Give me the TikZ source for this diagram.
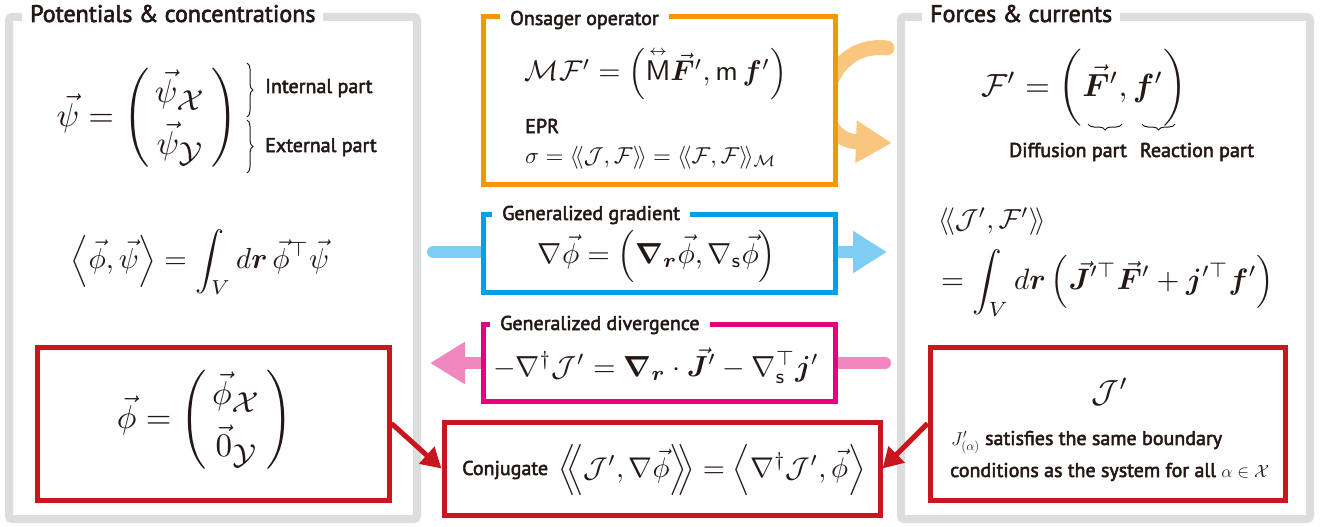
\documentclass[tikz,border=0pt]{standalone}
\usepackage{amsmath,amssymb,bm}
\usepackage{graphicx}
\usepackage{fontspec}
\newfontfamily\lab[FakeBold=2.5]{PT Sans}
\usetikzlibrary{arrows.meta,decorations.pathreplacing}
\definecolor{panelgray}{HTML}{DCDDDD}
\definecolor{textc}{HTML}{231815}
\definecolor{orD}{HTML}{F39800}
\definecolor{orL}{HTML}{F9C67F}
\definecolor{blD}{HTML}{00A0E9}
\definecolor{blL}{HTML}{7ECEF4}
\definecolor{mgD}{HTML}{E4007F}
\definecolor{mgL}{HTML}{F088BF}
\definecolor{rdD}{HTML}{C9161E}
\newcommand\dla{\langle\!\langle}
\newcommand\dra{\rangle\!\rangle}
\newcommand\MS[2]{\scalebox{#1}{$#2$}}
\newcommand\MSM[3]{\scalebox{#1}{\renewcommand\arraystretch{#2}$#3$}}
\newcommand\bsub[1]{\scalebox{1.25}{$\scriptstyle #1$}}
\begin{document}
\begin{tikzpicture}[x=1pt,y=-1pt,
  every node/.style={text=textc},
  panel/.style={draw=panelgray,line width=8,rounded corners=3,fill=white,inner sep=0},
  cbox/.style={draw=#1,line width=5,fill=white,inner sep=0},
  ttl/.style={fill=white,inner xsep=8,inner ysep=3,font=\lab\fontsize{24}{28}\selectfont,anchor=base west},
  sttl/.style={fill=white,inner xsep=10,inner ysep=3,font=\lab\fontsize{20}{24}\selectfont,anchor=base west},
  lbl/.style={font=\lab\fontsize{20}{24}\selectfont,inner sep=0},
  fat/.style={line width=#1,line cap=round},
  brc/.style={decorate,decoration={brace,amplitude=6},line width=1,draw=textc},
  redarr/.style={draw=rdD,line width=5,-{Triangle[length=20,width=22]}}
]
\useasboundingbox (0,0) rectangle (1327,527);

% panels
\node[panel,minimum width=408,minimum height=502] (lp) at (213,268) {};
\node[panel,minimum width=409,minimum height=502] (rp) at (1105.5,268) {};
\node[ttl] (lpt) at (22,22) {Potentials \& concentrations};
\node[ttl] (rpt) at (922,22) {Forces \& currents};

% thick arrows (behind boxes)
\coordinate (oa1) at (887,48);
\coordinate (oa2) at (892,143);
\draw[fat=15,draw=orL,-{Triangle[length=36,width=40]}] (oa1) .. controls (820,40) and (805,140) .. (oa2);
\coordinate (ba1) at (433,252);
\coordinate (ba2) at (887,252);
\draw[fat=12,draw=blL,-{Triangle[length=34,width=40]}] (ba1) -- (ba2);
\coordinate (pa1) at (885,363);
\coordinate (pa2) at (430,363);
\draw[fat=12,draw=mgL,-{Triangle[length=35,width=40]}] (pa1) -- (pa2);

% coloured boxes
\node[cbox=orD,minimum width=352,minimum height=167] (ons) at (659,100.5) {};
\node[sttl] (onst) at (500,25) {Onsager operator};
\node[cbox=blD,minimum width=352,minimum height=78] (grad) at (659,253) {};
\node[sttl] (gradt) at (492,220) {Generalized gradient};
\node[cbox=mgD,minimum width=352,minimum height=77] (div) at (659,362.5) {};
\node[sttl] (divt) at (490,330) {Generalized divergence};

\node[cbox=rdD,minimum width=352,minimum height=153] (phib) at (213,423.5) {};
\node[cbox=rdD,minimum width=436,minimum height=93] (conj) at (662,468.5) {};
\node[cbox=rdD,minimum width=355,minimum height=153] (jb) at (1107.5,423.5) {};

\draw[redarr] (phib.east) -- (conj.west);
\draw[redarr] (jb.west) -- (conj.east);

% left panel content
\node[inner sep=0] (psieq) at (147,118) {\MSM{3.3}{1.3}{\vec\psi = \begin{pmatrix}\,\vec\psi_{\bsub{\mathcal X}}\,\\ \,\vec\psi_{\bsub{\mathcal Y}}\,\end{pmatrix}}};
\draw[brc] (247,63) -- (247,117);
\draw[brc] (247,120) -- (247,173);
\node[lbl,anchor=west] (intp) at (265,88) {Internal part};
\node[lbl,anchor=west] (extp) at (265,147) {External part};
\node[inner sep=0] (ipeq) at (200,262) {\MS{2.9}{\displaystyle \Bigl\langle\vec\phi,\vec\psi\Bigr\rangle = \int_V d\bm r\,\vec\phi^{\top}\vec\psi}};
\node[inner sep=0] (phieq) at (205,420) {\MSM{3.3}{1.3}{\vec\phi = \begin{pmatrix}\,\vec\phi_{\bsub{\mathcal X}}\,\\ \,\vec 0_{\bsub{\mathcal Y}}\,\end{pmatrix}}};

% onsager content
\node[inner sep=0] (meq) at (656,73) {\MS{2.85}{\mathcal M\mathcal F' = \Bigl(\overset{\scriptscriptstyle\leftrightarrow}{\mathsf M}\vec{\bm F}', \mathsf m\,\bm f'\Bigr)}};
\node[lbl,anchor=base west] (epr) at (525,133) {EPR};
\node[anchor=base west,inner sep=0] (sig) at (525,163) {\MS{2.3}{\sigma = \dla\mathcal J,\mathcal F\dra = \dla\mathcal F,\mathcal F\dra_{\mathcal M}}};

% gradient / divergence content
\node[inner sep=0] (geq) at (657,256) {\MS{2.9}{\nabla\vec\phi = \Bigl(\bm\nabla_{\bm r}\vec\phi, \nabla_{\mathsf s}\vec\phi\Bigr)}};
\node[inner sep=0] (deq) at (656,366) {\MS{2.9}{-\nabla^{\dagger}\mathcal J' = \bm\nabla_{\bm r}\cdot\vec{\bm J}' - \nabla_{\mathsf s}^{\top}\bm j'}};

% conjugate
\node[lbl,anchor=west] (conjl) at (462,470) {Conjugate};
\node[anchor=west,inner sep=0] (conjeq) at (558,470) {\MS{2.85}{\Bigl\langle\!\!\Bigl\langle\mathcal J',\nabla\vec\phi\Bigr\rangle\!\!\Bigr\rangle = \Bigl\langle\nabla^{\dagger}\mathcal J',\vec\phi\Bigr\rangle}};

% right panel content
\node[inner sep=0] (feq) at (1084,88) {\MS{3.2}{\mathcal F' = \biggl(\vec{\bm F}', \bm f'\biggr)}};
\draw[brc] (1122,124) -- (1088,124);
\draw[brc] (1175,124) -- (1142,124);
\node[lbl,anchor=base] (difp) at (1068,157) {Diffusion part};
\node[lbl,anchor=base] (reap) at (1197,157) {Reaction part};
\node[anchor=west,inner sep=0] (ip1) at (938,222) {\MS{2.75}{\dla\mathcal J',\mathcal F'\dra}};
\node[anchor=west,inner sep=0] (ip2) at (941,283) {\MS{2.95}{\displaystyle =\int_V d\bm r\,\Bigl(\vec{\bm J}'^{\top}\vec{\bm F}'+\bm j'^{\top}\bm f'\Bigr)}};

% J' box content
\node[inner sep=0] (jeq) at (1110,392) {\MS{3.2}{\mathcal J'}};
\node[lbl,anchor=base west] (jl1) at (951,445) {\MS{0.9}{J'_{(\alpha)}} satisfies the same boundary};
\node[lbl,anchor=base west] (jl2) at (950,477) {conditions as the system for all \MS{0.85}{\alpha\in\mathcal X}};
\end{tikzpicture}
\end{document}
